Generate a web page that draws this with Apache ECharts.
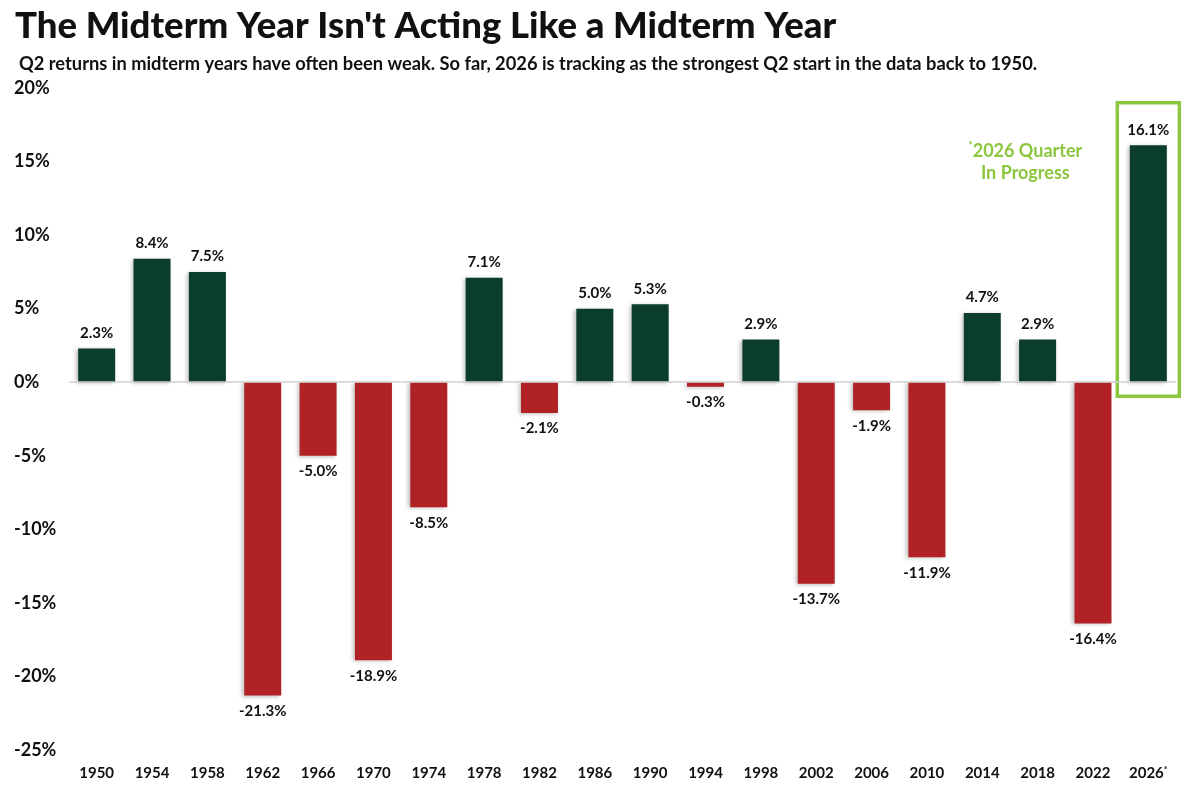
<!DOCTYPE html>
<html lang="en">
<head>
    <meta charset="UTF-8">
    <title>Midterm Year Q2 Returns</title>
    <style>
        html, body {
            margin: 0;
            padding: 0;
            width: 100%;
            height: 100%;
            background: #fff;
            overflow: hidden;
        }
        #main {
            width: 1199px;
            height: 794px;
        }
    </style>
</head>
<body>
<div id="main"></div>
<script src="https://cdn.jsdelivr.net/npm/echarts@6/dist/echarts.min.js"></script>
<script>
    // years (midterm years) and Q2 returns in %
    var years = ['1950', '1954', '1958', '1962', '1966', '1970', '1974', '1978', '1982', '1986',
        '1990', '1994', '1998', '2002', '2006', '2010', '2014', '2018', '2022', '2026*'];
    var returns = [2.3, 8.4, 7.5, -21.3, -5.0, -18.9, -8.5, 7.1, -2.1, 5.0,
        5.3, -0.3, 2.9, -13.7, -1.9, -11.9, 4.7, 2.9, -16.4, 16.1];
    var yTicks = [-25, -20, -15, -10, -5, 0, 5, 10, 15, 20];

    var green = '#0b3d2e';
    var red = '#b02225';
    var lime = '#8cc63f';
    var font = 'Lato';

    var chart = echarts.init(document.getElementById('main'));

    var barData = returns.map(function (v) {
        return {
            value: v,
            itemStyle: { color: v >= 0 ? green : red },
            label: { position: v >= 0 ? 'top' : 'bottom' }
        };
    });

    var option = {
        backgroundColor: '#fff',
        animation: false,
        title: [{
            text: "The Midterm Year Isn't Acting Like a Midterm Year",
            left: 10,
            top: 3,
            textStyle: { fontFamily: font, fontWeight: 900, fontSize: 36.5, color: '#111' }
        }, {
            text: 'Q2 returns in midterm years have often been weak. So far, 2026 is tracking as the strongest Q2 start in the data back to 1950.',
            left: 14,
            top: 50,
            textStyle: { fontFamily: font, fontWeight: 700, fontSize: 18.3, color: '#111' }
        }],
        grid: { left: 69, right: 23, top: 88, bottom: 44 },
        xAxis: {
            type: 'category',
            data: years,
            axisLine: { show: false },
            axisTick: { show: false },
            axisLabel: {
                interval: 0,
                margin: 16,
                fontFamily: font,
                fontWeight: 700,
                fontSize: 15,
                color: '#111',
                formatter: function (v) {
                    return v.slice(-1) === '*' ? v.slice(0, -1) + '{sup|*}' : v;
                },
                rich: { sup: { fontSize: 9, fontWeight: 700, color: '#111', verticalAlign: 'top', padding: [0, 0, 6, 0] } }
            }
        },
        yAxis: {
            type: 'value',
            min: yTicks[0],
            max: yTicks[yTicks.length - 1],
            interval: 5,
            splitLine: { show: false },
            axisLine: { show: false },
            axisLabel: {
                align: 'left',
                margin: 55,
                fontFamily: font,
                fontWeight: 700,
                fontSize: 18,
                color: '#111',
                formatter: '{value}%'
            }
        },
        series: [{
            type: 'bar',
            data: barData,
            barWidth: 37,
            itemStyle: {
                shadowColor: 'rgba(0,0,0,0.25)',
                shadowBlur: 4,
                shadowOffsetX: -2,
                shadowOffsetY: 1
            },
            label: {
                show: true,
                distance: 8,
                fontFamily: font,
                fontWeight: 700,
                fontSize: 15,
                color: '#111',
                formatter: function (p) { return p.value.toFixed(1) + '%'; }
            },
            markLine: {
                silent: true,
                symbol: 'none',
                label: { show: false },
                lineStyle: { color: '#d0d0d0', width: 1.5, type: 'solid' },
                data: [{ yAxis: 0 }]
            }
        }]
    };

    chart.setOption(option);

    // green box around the in-progress 2026 bar plus its note
    var last = years.length - 1;
    var pTop = chart.convertToPixel({ seriesIndex: 0 }, [last, 19]);
    var pBot = chart.convertToPixel({ seriesIndex: 0 }, [last, -0.95]);
    chart.setOption({
        graphic: [{
            type: 'rect',
            shape: { x: pTop[0] - 31, y: pTop[1], width: 62, height: pBot[1] - pTop[1] },
            style: { fill: 'none', stroke: lime, lineWidth: 3.5 }
        }, {
            type: 'text',
            x: pTop[0] - 123,
            y: 140,
            style: {
                text: '{sup|*}{t|2026 Quarter}\n{t|In Progress}',
                align: 'center',
                rich: {
                    t: { fontFamily: font, fontWeight: 700, fontSize: 18, fill: lime, lineHeight: 22 },
                    sup: { fontFamily: font, fontWeight: 700, fontSize: 10, fill: lime, verticalAlign: 'top' }
                }
            }
        }]
    });
</script>
</body>
</html>
